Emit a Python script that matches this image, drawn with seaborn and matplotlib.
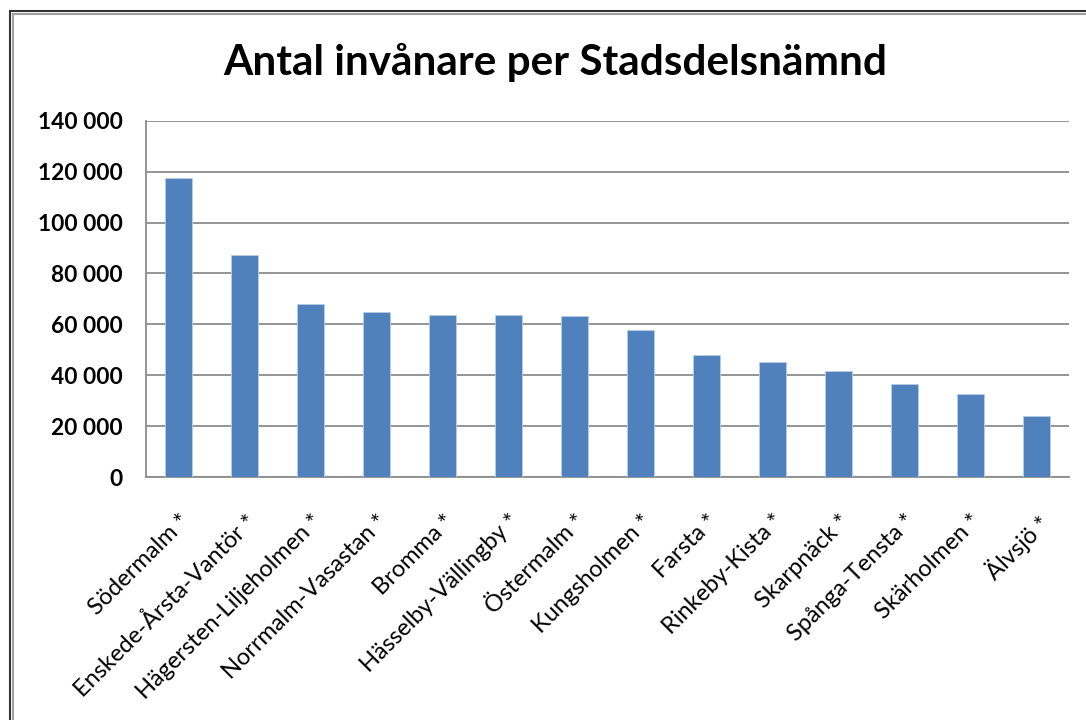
import numpy as np
import matplotlib
matplotlib.use("Agg")
import matplotlib.pyplot as plt
from matplotlib.ticker import FuncFormatter, FixedLocator
from matplotlib.lines import Line2D
import seaborn as sns

# Data
districts = [
    'Södermalm *', 'Enskede-Årsta-Vantör *', 'Hägersten-Liljeholmen *',
    'Norrmalm-Vasastan *', 'Bromma *', 'Hässelby-Vällingby *', 'Östermalm *',
    'Kungsholmen *', 'Farsta *', 'Rinkeby-Kista *', 'Skarpnäck *',
    'Spånga-Tensta *', 'Skärholmen *', 'Älvsjö *'
]
residents = [117600, 87100, 67800, 64700, 63500, 63500, 63100,
             57800, 48000, 45000, 41500, 36400, 32800, 23900]
y_ticks = [0, 20000, 40000, 60000, 80000, 100000, 120000, 140000]

sns.set_style("white")
plt.rcParams['font.family'] = ['Lato', 'DejaVu Sans']

bar_color = "#4F81BD"
grid_color = "#8C8C8C"

fig = plt.figure(figsize=(10.86, 7.2), dpi=100)
ax = fig.add_axes([146 / 1086, 1 - 477 / 720, (1069 - 146) / 1086, (477 - 120.7) / 720])

sns.barplot(x=districts, y=residents, color=bar_color, saturation=1, width=0.41,
            edgecolor="#B9CDE5", linewidth=0.6, ax=ax, zorder=3)

ax.set_ylim(0, 140000)
ax.set_xlim(-0.5, len(districts) - 0.5)
ax.yaxis.set_major_locator(FixedLocator(y_ticks))
ax.yaxis.set_major_formatter(FuncFormatter(lambda v, p: f"{int(v):,}".replace(",", " ")))
ax.grid(axis="y", color=grid_color, linewidth=1.3, zorder=0)
ax.set_axisbelow(True)

for side in ["top", "right"]:
    ax.spines[side].set_visible(False)
for side in ["left", "bottom"]:
    ax.spines[side].set_color(grid_color)
    ax.spines[side].set_linewidth(1.3)

ax.tick_params(axis="y", length=7, width=1.3, color=grid_color, pad=10,
               labelsize=16.4, labelcolor="black")
for lbl in ax.get_yticklabels():
    lbl.set_fontweight("bold")

# category labels, tick marks sit between the bars as in Excel
ax.tick_params(axis="x", which="major", length=0, pad=24, labelsize=17,
               labelcolor="black")
ax.set_xticks(np.arange(-0.5, len(districts), 1.0), minor=True)
ax.tick_params(axis="x", which="minor", length=6, width=1.3, color=grid_color)
plt.setp(ax.get_xticklabels(), rotation=45, ha="right", rotation_mode="anchor")
ax.set_xlabel("")
ax.set_ylabel("")

fig.text(0.511, 1 - 62 / 720, "Antal invånare per Stadsdelsnämnd",
         ha="center", va="center", fontsize=30.4, fontweight="bold", color="black")

# chart area frame (double line on left and top)
fig.add_artist(Line2D([10 / 1086, 10 / 1086], [0, 1 - 11 / 720], color="#333333", lw=1.5))
fig.add_artist(Line2D([13 / 1086, 13 / 1086], [0, 1 - 14 / 720], color="#A0A0A0", lw=1.5))
fig.add_artist(Line2D([10 / 1086, 1], [1 - 11 / 720, 1 - 11 / 720], color="#333333", lw=1.5))
fig.add_artist(Line2D([13 / 1086, 1], [1 - 14 / 720, 1 - 14 / 720], color="#A0A0A0", lw=1.5))

fig.savefig("out.png", dpi=100)
